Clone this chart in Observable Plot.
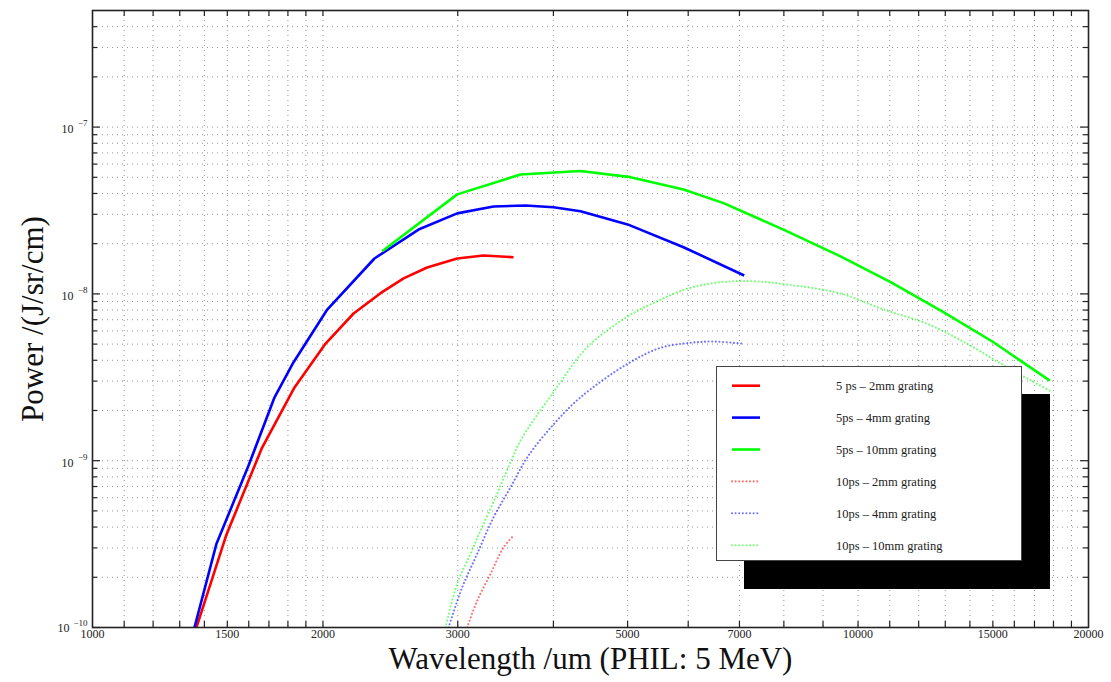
<!DOCTYPE html>
<html><head><meta charset="utf-8">
<script src="https://cdn.jsdelivr.net/npm/d3@7"></script>
<script src="https://cdn.jsdelivr.net/npm/@observablehq/plot@0.6"></script>
<style>
html,body{margin:0;padding:0;background:#fff;}
#wrap{position:relative;width:1111px;height:682px;overflow:hidden;}
#wrap svg{display:block;}
#legend{position:absolute;left:716px;top:366px;width:306px;height:195px;box-sizing:border-box;background:#fff;border:1.5px solid #444;box-shadow:28px 28px 0 0 #000;}
#legend svg{position:absolute;left:-1.5px;top:-1.5px;overflow:visible;}
</style></head><body><div id="wrap"></div>
<script>
// ---- data (wavelength in um, power in J/sr/cm) ----
const wl_5ps_2mm = [1367, 1496, 1663, 1836, 2016, 2193, 2378, 2549, 2736, 2995, 3243, 3548];
const p_5ps_2mm  = [1.0e-10, 3.6e-10, 1.18e-9, 2.75e-9, 5.04e-9, 7.63e-9, 1.01e-8, 1.24e-8, 1.44e-8, 1.63e-8, 1.70e-8, 1.66e-8];

const wl_5ps_4mm = [1359, 1452, 1599, 1729, 1830, 2026, 2335, 2666, 2995, 3341, 3679, 4000, 4340, 5000, 5916, 7100];
const p_5ps_4mm  = [1.0e-10, 3.18e-10, 9.35e-10, 2.4e-9, 3.88e-9, 8.06e-9, 1.63e-8, 2.43e-8, 3.04e-8, 3.34e-8, 3.39e-8, 3.31e-8, 3.13e-8, 2.61e-8, 1.905e-8, 1.29e-8];

const wl_5ps_10mm = [2390, 2995, 3623, 4340, 5044, 5916, 6673, 7990, 9487, 11030, 12930, 15030, 17800];
const p_5ps_10mm  = [1.8e-8, 3.95e-8, 5.2e-8, 5.45e-8, 5.01e-8, 4.23e-8, 3.5e-8, 2.43e-8, 1.68e-8, 1.175e-8, 7.77e-9, 5.13e-9, 3.02e-9];

const wl_10ps_2mm = [3086, 3181, 3311, 3443, 3548];
const p_10ps_2mm  = [1.0e-10, 1.45e-10, 2.1e-10, 3.02e-10, 3.55e-10];

const wl_10ps_4mm = [2918, 3040, 3181, 3341, 3516, 3698, 4000, 4340, 5000, 5521, 6043, 6475, 7100];
const p_10ps_4mm  = [1.0e-10, 1.74e-10, 2.77e-10, 4.58e-10, 6.92e-10, 1.048e-9, 1.646e-9, 2.4e-9, 3.81e-9, 4.75e-9, 5.09e-9, 5.18e-9, 5.02e-9];

const wl_10ps_10mm = [2891, 2995, 3117, 3213, 3361, 3494, 3623, 4000, 4429, 5000, 5467, 5983, 6613, 7302, 8080, 9487, 10800, 12310, 13890, 15660, 17800];
const p_10ps_10mm  = [1.0e-10, 1.83e-10, 2.77e-10, 3.81e-10, 6.03e-10, 9.13e-10, 1.32e-9, 2.57e-9, 4.79e-9, 7.32e-9, 9.04e-9, 1.073e-8, 1.175e-8, 1.19e-8, 1.138e-8, 1.0055e-8, 8.06e-9, 6.62e-9, 5.02e-9, 3.63e-9, 2.63e-9];

const seriesNames  = ["5 ps \u2013 2mm grating", "5ps \u2013 4mm grating", "5ps \u2013 10mm grating", "10ps \u2013 2mm grating", "10ps \u2013 4mm grating", "10ps \u2013 10mm grating"];
const seriesColors = ["#ff0000", "#0000ff", "#00ff00", "#ff0000", "#0000ff", "#00ff00"];
const seriesDotted = [false, false, false, true, true, true];
const seriesX = [wl_5ps_2mm, wl_5ps_4mm, wl_5ps_10mm, wl_10ps_2mm, wl_10ps_4mm, wl_10ps_10mm];
const seriesY = [p_5ps_2mm, p_5ps_4mm, p_5ps_10mm, p_10ps_2mm, p_10ps_4mm, p_10ps_10mm];

// ---- ticks ----
const xLabelTicks = [1000, 1500, 2000, 3000, 5000, 7000, 10000, 15000, 20000];
const xMinorTicks = [1100, 1200, 1300, 1400, 1500, 1600, 1700, 1800, 1900, 2000,
  3000, 4000, 5000, 6000, 7000, 8000, 9000, 10000, 11000, 12000, 13000, 14000, 15000, 16000, 17000, 18000, 19000];
const yDecades = [1e-10, 1e-9, 1e-8, 1e-7];
const yExponents = ["\u221210", "\u22129", "\u22128", "\u22127"];
const yMinorMultipliers = [2, 3, 4, 5, 6, 7, 8, 9];

const yMax = 5e-7;
const yMinorTicks = [];
for (const d of yDecades) for (const m of yMinorMultipliers) { const v = m * d; if (v < yMax * 0.999) yMinorTicks.push(v); }

const W = 1111, H = 682, mL = 92, mR = 23, mT = 10, mB = 55;
const fw = W - mL - mR, fh = H - mT - mB;
const serif = "'Liberation Serif', 'Times New Roman', serif";
const dotDash = "0.01,3.6";

const gridStyle = {stroke: "#8a8a8a", strokeDasharray: "1,4", strokeWidth: 1, strokeOpacity: 0.9};
const tickColor = "#222";

const lineMarks = seriesNames.map((name, i) => {
  const rows = seriesX[i].map((x, j) => ({wl: x, p: seriesY[i][j]}));
  return Plot.line(rows, {
    x: "wl", y: "p", stroke: seriesColors[i], clip: true,
    curve: seriesDotted[i] ? "catmull-rom" : "linear",
    strokeWidth: seriesDotted[i] ? 2.1 : 2.6,
    strokeDasharray: seriesDotted[i] ? dotDash : null,
    strokeOpacity: seriesDotted[i] ? 0.55 : 1,
    strokeLinecap: seriesDotted[i] ? "round" : "butt"
  });
});

const expRows = yDecades.map((d, i) => ({v: d, e: yExponents[i]}));

const chart = Plot.plot({
  width: W, height: H,
  marginLeft: mL, marginRight: mR, marginTop: mT, marginBottom: mB,
  x: {type: "log", domain: [1000, 20000], axis: null},
  y: {type: "log", domain: [1e-10, yMax], axis: null},
  style: {fontFamily: serif, background: "#fff", color: "#222"},
  marks: [
    // grid
    Plot.ruleX(xMinorTicks, {x: d => d, ...gridStyle}),
    Plot.ruleY(yDecades.slice(1).concat(yMinorTicks), {y: d => d, ...gridStyle}),
    // curves
    ...lineMarks,
    // ticks bottom / top
    Plot.ruleX(xMinorTicks, {x: d => d, insetTop: fh - 6, stroke: tickColor, strokeWidth: 1.2}),
    Plot.ruleX(xMinorTicks, {x: d => d, insetBottom: fh - 6, stroke: tickColor, strokeWidth: 1.2}),
    // ticks left / right
    Plot.ruleY(yDecades, {y: d => d, insetRight: fw - 8, stroke: tickColor, strokeWidth: 1.2}),
    Plot.ruleY(yDecades, {y: d => d, insetLeft: fw - 8, stroke: tickColor, strokeWidth: 1.2}),
    Plot.ruleY(yMinorTicks, {y: d => d, insetRight: fw - 5, stroke: tickColor, strokeWidth: 1.2}),
    Plot.ruleY(yMinorTicks, {y: d => d, insetLeft: fw - 5, stroke: tickColor, strokeWidth: 1.2}),
    Plot.frame({stroke: "#222", strokeWidth: 1.6}),
    // x tick labels
    Plot.text(xLabelTicks, {x: d => d, frameAnchor: "bottom", dy: 10, text: d => String(d), fontSize: 12, fill: "#222"}),
    // y tick labels: base "10" and superscript exponent
    Plot.text(expRows.filter(r => r.e.length < 3), {y: "v", frameAnchor: "left", dx: -19, dy: 2, textAnchor: "end", text: () => "10", fontSize: 12, fill: "#222"}),
    Plot.text(expRows.filter(r => r.e.length >= 3), {y: "v", frameAnchor: "left", dx: -23, dy: 1, textAnchor: "end", text: () => "10", fontSize: 12, fill: "#222"}),
    Plot.text(expRows, {y: "v", frameAnchor: "left", dx: -5, dy: -4, textAnchor: "end", text: "e", fontSize: 9, fill: "#222"}),
    // axis titles
    Plot.text(["Wavelength /um (PHIL: 5 MeV)"], {frameAnchor: "bottom", dy: 41, textAnchor: "middle", text: d => d, fontSize: 31, fill: "#111"}),
    Plot.text(["Power /(J/sr/cm)"], {frameAnchor: "left", dx: -59, textAnchor: "middle", rotate: -90, text: d => d, fontSize: 31, fill: "#111"})
  ]
});

const wrap = document.getElementById("wrap");
wrap.appendChild(chart);

// legend (inside plot area, with drop shadow)
const legend = document.createElement("div");
legend.id = "legend";
const ns = "http://www.w3.org/2000/svg";
const ls = document.createElementNS(ns, "svg");
ls.setAttribute("width", 306); ls.setAttribute("height", 195);
seriesNames.forEach((name, i) => {
  const y = 19.7 + 31.9 * i;
  const ln = document.createElementNS(ns, "line");
  ln.setAttribute("x1", 16); ln.setAttribute("x2", 44);
  ln.setAttribute("y1", y); ln.setAttribute("y2", y);
  ln.setAttribute("stroke", seriesColors[i]);
  ln.setAttribute("stroke-width", seriesDotted[i] ? 2.1 : 2.6);
  if (seriesDotted[i]) { ln.setAttribute("stroke-dasharray", dotDash); ln.setAttribute("stroke-opacity", 0.55); ln.setAttribute("stroke-linecap", "round"); }
  ls.appendChild(ln);
  const t = document.createElementNS(ns, "text");
  t.setAttribute("x", 120); t.setAttribute("y", y);
  t.setAttribute("dy", "0.35em");
  t.setAttribute("font-family", serif);
  t.setAttribute("font-size", 12.5);
  t.setAttribute("fill", "#222");
  t.textContent = name;
  ls.appendChild(t);
});
legend.appendChild(ls);
wrap.appendChild(legend);
</script></body></html>
